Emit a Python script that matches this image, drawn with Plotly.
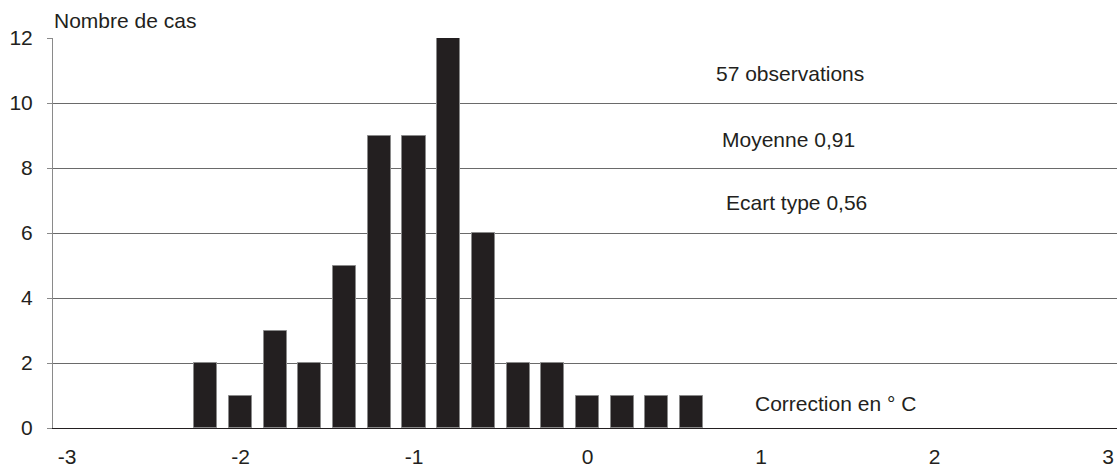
import plotly.graph_objects as go

# classes de correction (°C) et nombre de cas
corrections = [-2.2, -2.0, -1.8, -1.6, -1.4, -1.2, -1.0, -0.8, -0.6, -0.4, -0.2, 0.0, 0.2, 0.4, 0.6]
nb_cas = [2, 1, 3, 2, 5, 9, 9, 12, 6, 2, 2, 1, 1, 1, 1]

x_ticks = [-3, -2, -1, 0, 1, 2, 3]
y_ticks = [0, 2, 4, 6, 8, 10, 12]

stats_labels = ["57 observations", "Moyenne 0,91", "Ecart type 0,56"]
stats_x = [1.167, 1.156, 1.207]
stats_y = [10.92, 8.89, 6.95]

ink = "#231f20"
font = dict(family="Liberation Sans, Arial, sans-serif", size=21, color=ink)

fig = go.Figure()

fig.add_trace(
    go.Bar(
        x=corrections,
        y=nb_cas,
        width=0.133,
        marker=dict(color=ink, line=dict(color="#8a8a8a", width=1)),
        showlegend=False,
    )
)

fig.update_layout(
    width=1117,
    height=468,
    margin=dict(l=53, r=0, t=38, b=40),
    paper_bgcolor="white",
    plot_bgcolor="white",
    font=font,
    bargap=0,
)

fig.update_xaxes(
    range=[-3.081, 3.052],
    tickvals=x_ticks,
    ticktext=[str(v) for v in x_ticks],
    showgrid=False,
    zeroline=False,
    showline=True,
    linecolor=ink,
    linewidth=1,
    ticks="",
    ticklabelstandoff=10,
)

fig.update_yaxes(
    range=[0, 12],
    tickvals=y_ticks,
    showgrid=True,
    gridcolor="#6a6a6a",
    gridwidth=1,
    zeroline=False,
    showline=True,
    linecolor="#8a8a8a",
    linewidth=1,
    ticks="outside",
    ticklen=5,
    tickcolor="#8a8a8a",
    ticklabelstandoff=10,
)

# titre de l'axe des y
fig.add_annotation(
    text="Nombre de cas", xref="paper", yref="paper",
    x=-0.001, y=1.0, yshift=18, xanchor="left", yanchor="middle",
    showarrow=False, font=font,
)

# statistiques
for label, xpos, ypos in zip(stats_labels, stats_x, stats_y):
    fig.add_annotation(
        text=label, xref="x", yref="y", x=xpos, y=ypos,
        showarrow=False, font=font,
    )

fig.add_annotation(
    text="Correction en ° C", xref="x", yref="y", x=1.43, y=0.74,
    showarrow=False, font=font,
)

fig.write_html(
    "out.html",
    config={"displayModeBar": False},
    post_script="document.body.style.margin='0';",
)
